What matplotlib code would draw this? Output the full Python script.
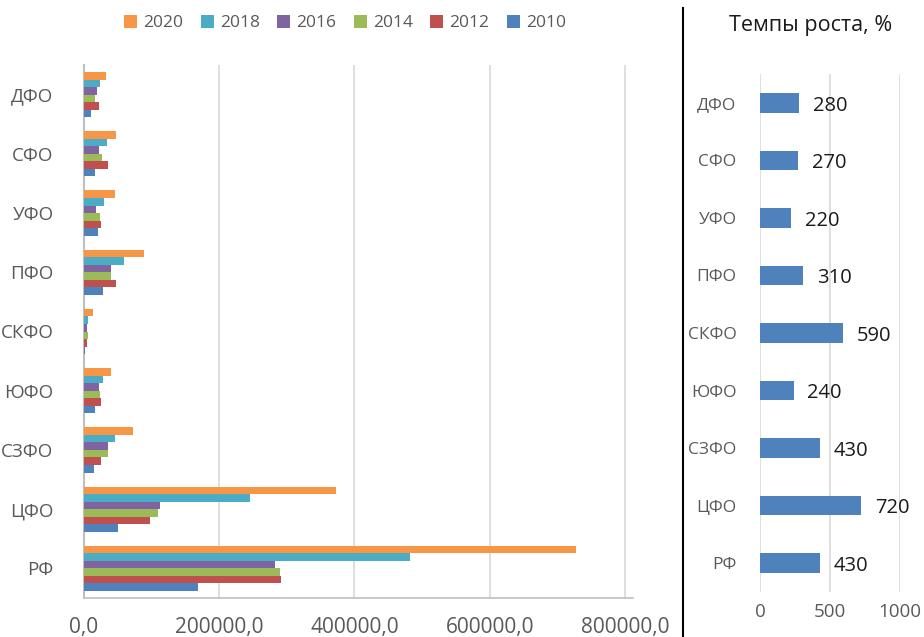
import matplotlib
matplotlib.use("Agg")
import matplotlib.pyplot as plt
import numpy as np
from matplotlib.lines import Line2D

plt.rcParams['font.family'] = ['Open Sans', 'DejaVu Sans']

regions = ['РФ', 'ЦФО', 'СЗФО', 'ЮФО', 'СКФО', 'ПФО', 'УФО', 'СФО', 'ДФО']
years = ['2010', '2012', '2014', '2016', '2018', '2020']
v2010 = [168000, 49800, 15000, 16300, 1500, 27600, 20200, 16800, 10000]
v2012 = [291800, 97000, 25000, 24600, 4900, 47800, 24600, 35500, 21700]
v2014 = [290500, 109500, 35500, 24200, 5400, 39400, 23000, 26600, 16000]
v2016 = [282400, 112000, 35500, 22200, 3900, 40000, 17700, 21700, 19000]
v2018 = [482700, 245700, 46000, 28100, 6400, 59000, 29000, 33500, 23000]
v2020 = [727300, 373200, 72800, 40400, 13800, 89200, 46300, 48000, 32000]
growth = [430, 720, 430, 240, 590, 310, 220, 270, 280]

series = [v2010, v2012, v2014, v2016, v2018, v2020]
colors = ['#4F81BD', '#C0504D', '#9BBB59', '#8064A2', '#4BACC6', '#F79646']
gray = '#595959'
grid = '#d9d9d9'

fig = plt.figure(figsize=(9.24, 6.37), dpi=100)

# Left chart
ax = fig.add_axes([84/924, 1-598/637, (633-84)/924, (598-65)/637])
y = np.arange(len(regions))
h = 0.127
for i, (vals, c) in enumerate(zip(series, colors)):
    off = (i - 2.5) * h
    ax.barh(y + off, vals, height=h, color=c, edgecolor='none', zorder=3, label=years[i])
ax.set_xlim(0, 812000)
ax.set_ylim(-0.5, len(regions) - 0.5)
ax.set_xticks([0, 200000, 400000, 600000, 800000])
ax.set_xticklabels(['0,0', '200000,0', '400000,0', '600000,0', '800000,0'])
ax.set_yticks(y)
ax.set_yticklabels(regions)
ax.tick_params(axis='both', length=0, colors=gray)
ax.tick_params(axis='x', pad=14, labelsize=15)
ax.tick_params(axis='y', pad=22, labelsize=13.5)
ax.xaxis.grid(True, color=grid, lw=1.2, zorder=0)
for s in ['top', 'right']:
    ax.spines[s].set_visible(False)
ax.spines['left'].set_color('#bfbfbf')
ax.spines['left'].set_linewidth(1.5)
ax.spines['bottom'].set_color('#bfbfbf')
ax.spines['bottom'].set_linewidth(1.2)

handles, labels = ax.get_legend_handles_labels()
leg = fig.legend(handles[::-1], labels[::-1], loc='center', bbox_to_anchor=(345/924, 1-23/637),
                 ncol=6, frameon=False, fontsize=12.5, handlelength=0.75, handleheight=0.75,
                 columnspacing=1.0, handletextpad=0.35, labelcolor=gray)

# Divider line
fig.add_artist(Line2D([683/924, 683/924], [0, 1-8/637], color='black', lw=1.5))

# Right chart
ax2 = fig.add_axes([760/924, 1-592/637, (900-760)/924, (592-74)/637])
ax2.barh(y, growth, height=0.34, color='#4F81BD', edgecolor='none', zorder=3)
for yi, g in zip(y, growth):
    ax2.annotate(str(g), (g, yi), xytext=(10, -2), textcoords='offset points',
                 ha='left', va='center', fontsize=14.5, color='#1a1a1a')
ax2.set_xlim(0, 1000)
ax2.set_ylim(-0.5, len(regions) - 0.5)
ax2.set_xticks([0, 500, 1000])
ax2.set_yticks(y)
ax2.set_yticklabels(regions)
ax2.tick_params(axis='both', length=0, colors=gray)
ax2.tick_params(axis='x', pad=8, labelsize=13.5)
ax2.tick_params(axis='y', pad=17, labelsize=12.5)
ax2.xaxis.grid(True, color=grid, lw=1.2, zorder=0)
for s in ax2.spines.values():
    s.set_visible(False)
fig.text(811/924, 1-25/637, 'Темпы роста, %', ha='center', va='center', fontsize=15.5, color='#1a1a1a')

fig.savefig('out.png', dpi=100)
